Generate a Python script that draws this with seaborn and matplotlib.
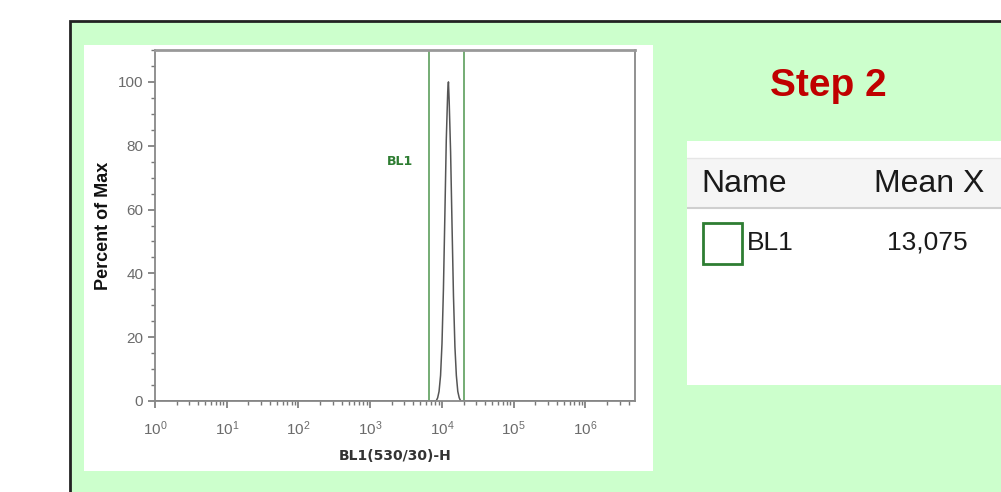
import pandas as pd
import matplotlib.pyplot as plt
import matplotlib.ticker as mticker
from matplotlib.patches import Rectangle
import seaborn as sns

# BL1 histogram (percent of max per channel)
bl1_values = [1, 8300, 8700, 9100, 9550, 10000, 10470, 10960, 11480, 12020,
              12300, 12590, 13180, 13800, 14450, 15140, 15850, 16600, 17380,
              18200, 4900000]
percent_of_max = [0, 0, 1, 3, 8, 18, 35, 58, 82, 97,
                  100, 94, 78, 55, 33, 17, 8, 3, 1,
                  0, 0]

gate_low = 6500
gate_high = 20000
gate_name = "BL1"
mean_x = "13,075"

x_ticks = [1, 10, 100, 1000, 10000, 100000, 1000000]
x_tick_labels = ["$10^{0}$", "$10^{1}$", "$10^{2}$", "$10^{3}$",
                 "$10^{4}$", "$10^{5}$", "$10^{6}$"]
y_ticks = [0, 20, 40, 60, 80, 100]

sns.set_theme(style="ticks")
plt.rcParams['font.family'] = ['Liberation Sans', 'DejaVu Sans']
plt.rcParams['mathtext.fontset'] = 'custom'
plt.rcParams['mathtext.rm'] = 'Liberation Sans'
plt.rcParams['mathtext.it'] = 'Liberation Sans:italic'
plt.rcParams['mathtext.bf'] = 'Liberation Sans:bold'

W, H = 1001, 492
fig = plt.figure(figsize=(W / 100, H / 100), dpi=100)
fig.patch.set_facecolor('white')


def box(x0, y0, x1, y1):
    return [x0 / W, 1 - y1 / H, (x1 - x0) / W, (y1 - y0) / H]


# green slide panel and white plot background
fig.patches.append(Rectangle((70 / W, -0.1), 1.0, 1 - 21 / H + 0.1,
                             transform=fig.transFigure, facecolor='#ccffcc',
                             edgecolor='#222222', lw=2, zorder=-3))
fig.patches.append(Rectangle((84 / W, 1 - 471 / H), (653 - 84) / W, (471 - 45) / H,
                             transform=fig.transFigure, facecolor='white',
                             edgecolor='none', zorder=-2))

ax = fig.add_axes(box(155, 50, 635, 401))
ax.set_facecolor('white')

df = pd.DataFrame({'BL1': bl1_values, 'pct': percent_of_max})
sns.lineplot(data=df, x='BL1', y='pct', ax=ax, color='#555555', lw=1.1)

ax.set_xscale('log')
ax.set_xlim(1, 10 ** 6.69)
ax.set_ylim(0, 110)

ax.axvline(gate_low, color='#5c9e5c', lw=1.2)
ax.axvline(gate_high, color='#5c9e5c', lw=1.2)
ax.text(2600, 75, gate_name, color='#2e7d32', fontweight='bold', fontsize=9,
        family=['DejaVu Sans'], ha='center', va='center')

ax.set_xticks(x_ticks, x_tick_labels)
ax.xaxis.set_minor_locator(mticker.LogLocator(base=10, subs=range(2, 10), numticks=20))
ax.xaxis.set_minor_formatter(mticker.NullFormatter())
ax.set_yticks(y_ticks)
ax.yaxis.set_minor_locator(mticker.MultipleLocator(5))

ax.tick_params(which='major', direction='out', length=5, width=1.2,
               color='#777777', labelcolor='#6b6b6b', labelsize=11)
ax.tick_params(which='minor', direction='out', length=3, width=1,
               color='#777777')
ax.tick_params(axis='x', pad=8)

for s in ax.spines.values():
    s.set_visible(True)
    s.set_color('#888888')
    s.set_linewidth(1.3)
ax.spines['top'].set_linewidth(2)
ax.spines['top'].set_color('#999999')

ax.set_xlabel('BL1(530/30)-H', fontweight='bold', fontsize=10,
              family=['DejaVu Sans'], color='#333333', labelpad=8)
ax.set_ylabel('Percent of Max', fontweight='bold', fontsize=13,
              color='#111111', labelpad=4)

fig.text(828 / W, 1 - 86 / H, 'Step 2', color='#c00000', fontsize=28,
         fontweight='bold', ha='center', va='center')

# statistics table on the right
tax = fig.add_axes(box(687, 141, 1001, 385))
tax.set_xlim(687, 1001)
tax.set_ylim(385, 141)
tax.set_facecolor('white')
tax.set_xticks([])
tax.set_yticks([])
for s in tax.spines.values():
    s.set_visible(False)

tax.add_patch(Rectangle((687, 158), 314, 50, facecolor='#f5f5f5', edgecolor='none'))
tax.plot([687, 1001], [158, 158], color='#e6e6e6', lw=1)
tax.plot([687, 1001], [208, 208], color='#cfcfcf', lw=1.5)
tax.text(701, 184, 'Name', fontsize=23, color='#1a1a1a', ha='left', va='center')
tax.text(874, 184, 'Mean X', fontsize=23, color='#1a1a1a', ha='left', va='center')
tax.add_patch(Rectangle((703, 223), 39, 41, facecolor='white',
                        edgecolor='#2e7d32', lw=2))
tax.text(747, 243, gate_name, fontsize=19, color='#1a1a1a', ha='left', va='center')
tax.text(927, 243, mean_x, fontsize=19, color='#1a1a1a', ha='center', va='center')

fig.savefig('out.png', dpi=100)
